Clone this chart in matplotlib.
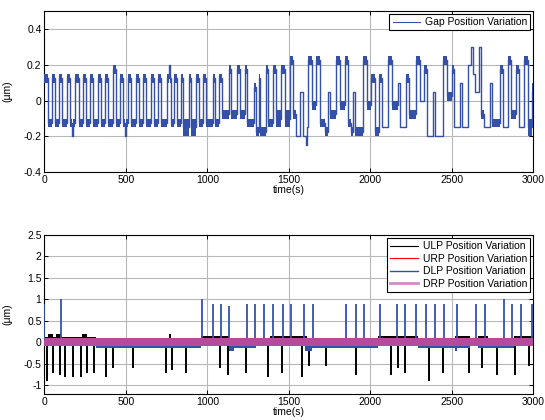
import matplotlib
matplotlib.use('Agg')

import matplotlib.pyplot as plt
from matplotlib.lines import Line2D
import numpy as np

plt.rcParams['font.family'] = ['Liberation Sans', 'DejaVu Sans']

# gap position: (start time, band low, band high); each runs to the next start
gap_segments = [
    (0, 0.10, 0.15), (20, -0.15, -0.10), (48, 0.10, 0.15), (68, -0.15, -0.10),
    (92, 0.10, 0.15), (108, -0.15, -0.10), (142, 0.10, 0.15), (160, -0.15, -0.10),
    (172, -0.20, -0.20), (178, -0.15, -0.10), (190, 0.10, 0.15), (210, -0.15, -0.10),
    (238, 0.10, 0.15), (256, -0.15, -0.10), (280, 0.10, 0.15), (298, -0.15, -0.10),
    (332, 0.10, 0.15), (350, -0.15, -0.10), (374, 0.10, 0.15), (392, -0.15, -0.10),
    (420, 0.15, 0.20), (440, -0.15, -0.10), (464, 0.10, 0.15), (482, -0.15, -0.10),
    (498, -0.20, -0.20), (503, -0.15, -0.10), (512, 0.10, 0.15), (530, -0.15, -0.10),
    (562, 0.10, 0.15), (580, -0.15, -0.10), (607, 0.10, 0.15), (625, -0.15, -0.10),
    (654, 0.10, 0.15), (672, -0.15, -0.10), (700, 0.10, 0.15), (718, -0.15, -0.10),
    (755, 0.10, 0.15), (766, 0.20, 0.20), (770, 0.10, 0.15), (778, -0.15, -0.10),
    (798, 0.10, 0.15), (812, -0.15, -0.10), (838, 0.10, 0.15), (852, -0.20, -0.10),
    (885, 0.10, 0.15), (900, -0.20, -0.10), (930, 0.10, 0.15), (948, -0.15, -0.10),
    (976, 0.10, 0.15), (994, -0.15, -0.10), (1032, 0.10, 0.15), (1050, -0.15, -0.10),
    (1074, 0.10, 0.15), (1090, -0.10, -0.05), (1130, 0.15, 0.20), (1148, -0.10, -0.05),
    (1180, 0.15, 0.20), (1198, -0.10, -0.05), (1232, 0.15, 0.20), (1245, -0.15, -0.10),
    (1288, 0.05, 0.10), (1296, -0.20, -0.15), (1315, 0.10, 0.15), (1325, -0.20, -0.15),
    (1360, 0.15, 0.20), (1372, -0.15, -0.10), (1405, 0.15, 0.20), (1422, -0.15, -0.05),
    (1455, 0.15, 0.20), (1477, -0.15, -0.05), (1505, 0.20, 0.25), (1528, -0.10, -0.05),
    (1545, -0.20, -0.20), (1570, 0.05, 0.05), (1590, -0.20, -0.20), (1608, -0.25, -0.25),
    (1612, -0.15, -0.15), (1620, 0.20, 0.25), (1640, -0.05, 0.00), (1668, 0.20, 0.25),
    (1692, -0.15, -0.10), (1720, -0.20, -0.15), (1740, 0.05, 0.05), (1755, -0.10, -0.05),
    (1790, 0.20, 0.25), (1815, -0.05, 0.00), (1842, 0.20, 0.25), (1866, -0.15, -0.10),
    (1880, -0.20, -0.15), (1893, 0.05, 0.05), (1905, -0.20, -0.15), (1955, 0.20, 0.25),
    (1978, -0.05, 0.00), (2005, 0.10, 0.15), (2030, -0.20, -0.15), (2055, 0.10, 0.15),
    (2072, -0.15, -0.15), (2108, 0.20, 0.25), (2132, -0.05, 0.00), (2168, 0.10, 0.10),
    (2180, -0.15, -0.15), (2220, 0.10, 0.15), (2238, -0.10, -0.05), (2282, 0.20, 0.25),
    (2305, 0.00, 0.00), (2332, 0.15, 0.20), (2350, -0.20, -0.20), (2385, 0.05, 0.05),
    (2395, -0.20, -0.20), (2445, 0.20, 0.25), (2469, 0.00, 0.05), (2498, 0.15, 0.20),
    (2515, -0.15, -0.15), (2548, 0.10, 0.10), (2560, -0.15, -0.15), (2600, 0.20, 0.20),
    (2620, 0.30, 0.30), (2628, 0.15, 0.15), (2640, 0.05, 0.05), (2668, 0.30, 0.30),
    (2680, -0.10, -0.05), (2700, -0.15, -0.15), (2732, 0.10, 0.10), (2745, -0.15, -0.10),
    (2793, 0.15, 0.20), (2815, -0.15, -0.15), (2843, 0.20, 0.25), (2865, -0.10, -0.05),
    (2895, 0.15, 0.20), (2912, -0.15, -0.15), (2945, 0.20, 0.25), (2965, -0.20, -0.10),
    (2990, 0.00, 0.10),
]
t_end = 3000

# lower plot: base bands (start, low, high) and spikes (time, value)
ulp_bands = [
    (0, 0.0, 0.12), (25, 0.0, 0.20), (55, 0.0, 0.12), (70, 0.0, 0.20), (100, 0.0, 0.12),
    (230, 0.0, 0.20), (262, 0.0, 0.12), (320, 0.0, 0.05), (960, 0.0, 0.14),
    (1130, 0.0, 0.05), (1385, 0.0, 0.14), (1610, 0.0, 0.05), (2050, 0.0, 0.14),
    (2290, 0.0, 0.05), (2520, 0.0, 0.14), (2610, 0.0, 0.05), (2660, 0.0, 0.14),
    (2720, 0.0, 0.05), (2880, 0.0, 0.14),
]
ulp_spikes = [
    (14, -0.9), (55, -0.7), (96, -0.75), (127, -0.8), (178, -0.8), (225, -0.8),
    (264, -0.7), (307, -0.7), (378, -0.8), (423, -0.6), (546, -0.6), (744, -0.7),
    (785, -0.65), (867, -0.7), (1078, -0.6), (1129, -0.75), (1235, -0.7), (1370, -0.8),
    (1461, -0.7), (1579, -0.8), (1626, -0.55), (1727, -0.55), (1913, -0.75),
    (2125, -0.75), (2172, -0.6), (2213, -0.7), (2363, -0.9), (2448, -0.7), (2608, -0.7),
    (2686, -0.6), (2776, -0.75), (2888, -0.75), (2976, -0.55), (771, 0.2),
]
urp_bands = [(0, -0.02, 0.02)]
dlp_bands = [
    (0, -0.05, 0.0), (320, -0.13, 0.0), (960, -0.05, 0.0), (1130, -0.20, 0.0),
    (1165, -0.13, 0.0), (1300, -0.05, 0.0), (1600, -0.20, 0.0), (1640, -0.13, 0.0),
    (2050, -0.05, 0.0), (2290, -0.13, 0.0), (2520, -0.20, 0.0), (2532, -0.13, 0.0),
    (2610, -0.05, 0.0), (2660, -0.13, 0.0), (2880, -0.05, 0.0),
]
dlp_spikes = [
    (0, 0.9), (102, 1.0), (969, 1.0), (1033, 0.9), (1082, 0.9), (1133, 0.85),
    (1241, 0.9), (1292, 0.9), (1348, 0.9), (1405, 0.9), (1463, 0.9), (1516, 0.9),
    (1594, 0.9), (1647, 0.9), (1851, 0.9), (1913, 0.9), (1962, 0.9), (2060, 0.9),
    (2162, 0.9), (2215, 0.9), (2279, 0.9), (2340, 0.9), (2397, 0.9), (2452, 0.9),
    (2530, 0.9), (2649, 0.9), (2704, 0.9), (2817, 1.0), (2868, 0.9), (2923, 0.9),
    (2990, 0.9),
]
drp_bands = [(0, -0.09, 0.10)]

blue = '#3550a8'
magenta = '#b44c9e'


def draw_bands(ax, segs, color, lw_line, zorder):
    t0 = np.array([s[0] for s in segs], dtype=float)
    t1 = np.append(t0[1:], t_end)
    lo = np.array([s[1] for s in segs])
    hi = np.array([s[2] for s in segs])
    ax.bar(t0, hi - lo, width=t1 - t0, bottom=lo, align='edge',
           color=color, linewidth=0, zorder=zorder)
    mid = (lo + hi) / 2
    xs = np.column_stack([t0, t1]).ravel()
    ys = np.column_stack([mid, mid]).ravel()
    ax.plot(xs, ys, color=color, lw=lw_line, zorder=zorder)


def style(ax, yticks, ylabels):
    ax.set_xlim(0, 3000)
    ax.set_xticks([0, 500, 1000, 1500, 2000, 2500, 3000])
    ax.set_yticks(yticks)
    ax.set_yticklabels(ylabels)
    ax.tick_params(axis='both', direction='in', length=3, width=0.7,
                   top=True, right=True, labelsize=7.5, pad=2)
    ax.grid(True, color='#b8b8b8', lw=0.8)
    ax.set_axisbelow(True)
    for sp in ax.spines.values():
        sp.set_linewidth(0.8)
    ax.set_xlabel('time(s)', fontsize=7.5, labelpad=0)
    ax.set_ylabel('(\u03bcm)', fontsize=7.5)
    ax.yaxis.set_label_coords(-0.066, 0.5)


fig = plt.figure(figsize=(5.45, 4.2), dpi=100)
ax1 = fig.add_axes([0.0813, 0.5898, 0.8973, 0.3840])
ax2 = fig.add_axes([0.0813, 0.0619, 0.8973, 0.3786])

draw_bands(ax1, gap_segments, blue, 1.0, 3)
ax1.set_ylim(-0.4, 0.5)
style(ax1, [-0.4, -0.2, 0, 0.2, 0.4], ['-0.4', '-0.2', '0', '0.2', '0.4'])
ax1.legend([Line2D([], [], color=blue, lw=0.8)], ['Gap Position Variation'],
           loc='upper right', fontsize=7.5, fancybox=False, framealpha=1,
           edgecolor='black', borderaxespad=0.3, handlelength=2.6,
           borderpad=0.3, handletextpad=0.5).get_frame().set_linewidth(0.8)

draw_bands(ax2, ulp_bands, 'black', 0.8, 3)
ax2.vlines([s[0] for s in ulp_spikes], 0, [s[1] for s in ulp_spikes],
           color='black', lw=1.4, zorder=3)
draw_bands(ax2, urp_bands, 'red', 0.8, 4)
draw_bands(ax2, dlp_bands, blue, 0.8, 5)
ax2.vlines([s[0] for s in dlp_spikes], 0, [s[1] for s in dlp_spikes],
           color=blue, lw=1.3, zorder=5)
draw_bands(ax2, drp_bands, magenta, 1.0, 6)
ax2.set_ylim(-1.2, 2.5)
style(ax2, [-1, -0.5, 0, 0.5, 1, 1.5, 2, 2.5],
      ['-1', '-0.5', '0', '0.5', '1', '1.5', '2', '2.5'])
handles = [Line2D([], [], color='black', lw=0.8),
           Line2D([], [], color='red', lw=0.8),
           Line2D([], [], color=blue, lw=1.0),
           Line2D([], [], color='#d08cc8', lw=2.0)]
leg = ax2.legend(handles, ['ULP Position Variation', 'URP Position Variation',
                           'DLP Position Variation', 'DRP Position Variation'],
                 loc='upper right', fontsize=7.5, fancybox=False, framealpha=1,
                 edgecolor='black', borderaxespad=0.3, handlelength=2.6,
                 borderpad=0.3, handletextpad=0.5, labelspacing=0.25)
leg.get_frame().set_linewidth(0.8)

plt.savefig('out.png', dpi=100)
plt.close(fig)
